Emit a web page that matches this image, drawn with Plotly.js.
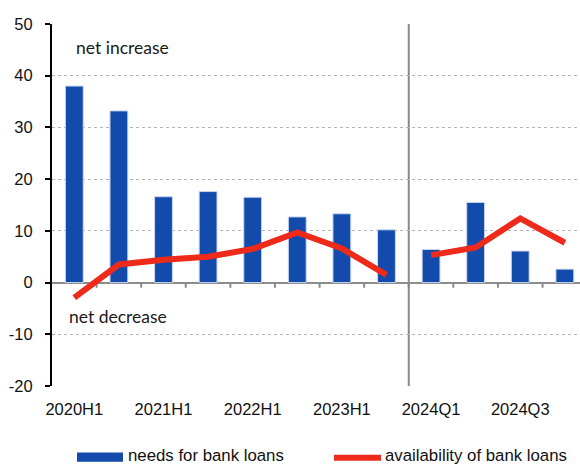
<!DOCTYPE html>
<html>
<head>
<meta charset="utf-8">
<script src="https://cdn.plot.ly/plotly-3.0.1.min.js"></script>
<style>html,body{margin:0;padding:0;background:#fff;}#chart{width:580px;height:464px;}</style>
</head>
<body>
<div id="chart"></div>
<script>
// Categories (half-years then quarters)
var categories = ['2020H1','2020H2','2021H1','2021H2','2022H1','2022H2','2023H1','2023H2','2024Q1','2024Q2','2024Q3','2024Q4'];
var tickLabels = ['2020H1','2021H1','2022H1','2023H1','2024Q1','2024Q3'];
var yTickValues = [-20, -10, 0, 10, 20, 30, 40, 50];
var yTickText = ['-20', '-10', '0', '10', '20', '30', '40', '50'];
// needs for bank loans (bars)
var needsValues = [38.0, 33.2, 16.6, 17.6, 16.5, 12.7, 13.3, 10.2, 6.4, 15.5, 6.1, 2.6];
// availability of bank loans (line), split at the change of frequency
var availHalfCats = ['2020H1','2020H2','2021H1','2021H2','2022H1','2022H2','2023H1','2023H2'];
var availHalfValues = [-2.9, 3.5, 4.4, 5.0, 6.5, 9.7, 6.6, 1.5];
var availQuarterCats = ['2024Q1','2024Q2','2024Q3','2024Q4'];
var availQuarterValues = [5.3, 6.8, 12.4, 7.7];
var seriesNames = ['needs for bank loans', 'availability of bank loans'];

var blue = '#134BAD';
var red = '#EE2A1B';
var breakIndex = categories.indexOf('2024Q1');

var traces = [
  {type:'bar', x:categories, y:needsValues, name:seriesNames[0], width:0.4,
   marker:{color:blue, line:{color:'#C9D6EE', width:1}}, showlegend:false},
  {type:'scatter', mode:'lines', x:availHalfCats, y:availHalfValues, name:seriesNames[1],
   line:{color:red, width:6}, showlegend:false},
  {type:'scatter', mode:'lines', x:availQuarterCats, y:availQuarterValues, name:seriesNames[1],
   line:{color:red, width:6}, showlegend:false}
];

var shapes = [];
// small tick marks along the zero line at category boundaries
for (var i = 0; i < categories.length - 1; i++) {
  shapes.push({type:'line', xref:'x', yref:'y', x0:i+0.5, x1:i+0.5, y0:0, y1:-1.0,
    line:{color:'#888', width:2}, layer:'below'});
}
// separator between half-yearly and quarterly data
shapes.push({type:'line', xref:'x', yref:'paper', x0:breakIndex-0.5, x1:breakIndex-0.5, y0:0, y1:1,
  line:{color:'#888', width:2}, layer:'below'});
// custom legend symbols
shapes.push({type:'rect', xref:'paper', yref:'paper', x0:(77-52)/528, x1:(123-52)/528, y0:-0.184, y1:-0.209,
  fillcolor:blue, line:{width:0}});
shapes.push({type:'line', xref:'paper', yref:'paper', x0:(334-52)/528, x1:(381-52)/528, y0:-0.198, y1:-0.198,
  line:{color:red, width:6}});

var annFont = {family:'Lato, "Noto Sans", sans-serif', size:17.5, color:'#1a1a1a'};
var legFont = {family:'"Liberation Sans", Arial, sans-serif', size:16.8, color:'#111'};
var annotations = [
  {text:'net increase', xref:'paper', yref:'y', x:(74-52)/528, y:45.5, xanchor:'left', yanchor:'middle', showarrow:false, font:annFont},
  {text:'net decrease', xref:'paper', yref:'y', x:(67-52)/528, y:-6.6, xanchor:'left', yanchor:'middle', showarrow:false, font:annFont},
  {text:seriesNames[0], xref:'paper', yref:'paper', x:(126-52)/528, y:-0.193, xanchor:'left', yanchor:'middle', showarrow:false, font:legFont},
  {text:seriesNames[1], xref:'paper', yref:'paper', x:(383-52)/528, y:-0.193, xanchor:'left', yanchor:'middle', showarrow:false, font:legFont}
];

var layout = {
  width:580, height:464,
  margin:{l:52, r:0, t:24, b:78},
  paper_bgcolor:'#fff', plot_bgcolor:'#fff',
  showlegend:false,
  font:{family:'"Liberation Sans", Arial, sans-serif', size:16, color:'#111'},
  xaxis:{type:'category', categoryorder:'array', categoryarray:categories,
    range:[-0.5, 11.34], tickvals:tickLabels, ticktext:tickLabels,
    showgrid:false, showline:false, zeroline:false,
    ticks:'outside', ticklen:8, tickcolor:'rgba(0,0,0,0)',
    tickfont:{family:'"Liberation Sans", Arial, sans-serif', size:16.5, color:'#111'}},
  yaxis:{range:[-20, 50], tickvals:yTickValues, ticktext:yTickText,
    showgrid:true, gridcolor:'#B5B5B5', griddash:'dot', gridwidth:1,
    zeroline:true, zerolinecolor:'#8C8C8C', zerolinewidth:2,
    showline:true, linecolor:'#000', linewidth:2,
    ticks:'outside', ticklen:5, tickwidth:2, tickcolor:'#000', ticklabelstandoff:9,
    tickfont:{family:'"Liberation Sans", Arial, sans-serif', size:16.5, color:'#111'}},
  shapes:shapes,
  annotations:annotations,
  bargap:0.6
};

Plotly.newPlot('chart', traces, layout, {displayModeBar:false, staticPlot:true});
</script>
</body>
</html>
